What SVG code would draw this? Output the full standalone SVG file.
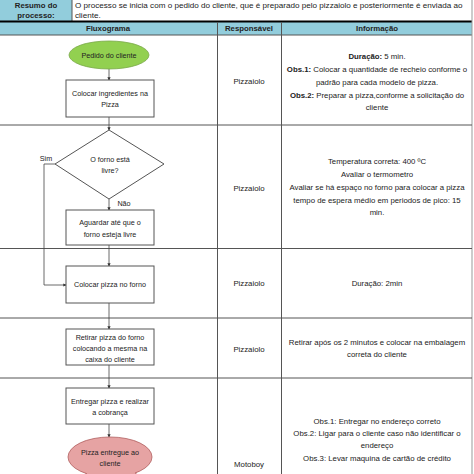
<svg xmlns="http://www.w3.org/2000/svg" width="474" height="474" viewBox="0 0 474 474">
<defs>
<style>
text{font-family:"Liberation Sans",Arial,sans-serif;font-size:7.8px;fill:#222;text-anchor:middle}
.n{font-size:7.2px}
.s{font-size:8.1px}
.b{font-weight:bold}
.l{text-anchor:start}
.grid{stroke:#555;stroke-width:1;fill:none}
.box{fill:#fff;stroke:#555;stroke-width:1}
.con{stroke:#444;stroke-width:0.8;fill:none}
</style>
<marker id="ah" viewBox="0 0 6 6" refX="5" refY="3" markerWidth="4" markerHeight="4" orient="auto"><path d="M0,0L6,3L0,6z" fill="#333"/></marker>
</defs>
<rect width="474" height="474" fill="#fff"/>
<g id="table">
<rect x="0" y="0" width="72" height="21" fill="#92cddc"/>
<rect x="0" y="22" width="472" height="13" fill="#92cddc"/>
<line x1="72" y1="0" x2="72" y2="21" class="grid"/>
<line x1="0" y1="21.5" x2="472" y2="21.5" stroke="#000" stroke-width="2"/>
<line x1="0" y1="35" x2="472" y2="35" class="grid"/>
<line x1="217.5" y1="22" x2="217.5" y2="474" class="grid"/>
<line x1="281.5" y1="22" x2="281.5" y2="474" class="grid"/>
<line x1="472" y1="0" x2="472" y2="474" stroke="#999" stroke-width="1"/>
<line x1="0" y1="125" x2="472" y2="125" class="grid"/>
<line x1="0" y1="248.5" x2="472" y2="248.5" class="grid"/>
<line x1="0" y1="318" x2="472" y2="318" class="grid"/>
<line x1="0" y1="378" x2="472" y2="378" class="grid"/>
<text x="36" y="8" class="b">Resumo do</text>
<text x="36" y="18" class="b">processo:</text>
<text x="75" y="8" class="l s">O processo se inicia com o pedido do cliente, que é preparado pelo pizzaiolo e posteriormente é enviada ao</text>
<text x="75" y="18" class="l s">cliente.</text>
<text x="108" y="31" class="b">Fluxograma</text>
<text x="249" y="31" class="b">Responsável</text>
<text x="377" y="31" class="b">Informação</text>
</g>
<g id="connectors">
<line x1="109" y1="69" x2="109" y2="80" class="con" marker-end="url(#ah)"/>
<line x1="109" y1="117" x2="109" y2="130" class="con" marker-end="url(#ah)"/>
<line x1="109" y1="199" x2="109" y2="210" class="con" marker-end="url(#ah)"/>
<line x1="109" y1="245" x2="109" y2="266" class="con" marker-end="url(#ah)"/>
<polyline points="55,164 44,164 44,285 66,285" class="con" marker-end="url(#ah)"/>
<line x1="109" y1="303" x2="109" y2="329" class="con" marker-end="url(#ah)"/>
<line x1="109" y1="365" x2="109" y2="388" class="con" marker-end="url(#ah)"/>
<line x1="109" y1="424" x2="109" y2="437" class="con" marker-end="url(#ah)"/>
<text x="46" y="161" class="n">Sim</text>
<text x="124" y="206" class="n">Não</text>
</g>
<g id="n1">
<ellipse cx="109" cy="55" rx="40" ry="14" fill="#92d050" stroke="#7aa84a" stroke-width="0.8"/>
<text x="109" y="58" class="n">Pedido do cliente</text>
</g>
<g id="n2">
<rect x="66" y="80" width="88" height="37" class="box"/>
<text x="110" y="96" class="n">Colocar ingredientes na</text>
<text x="110" y="107" class="n">Pizza</text>
</g>
<g id="n3">
<polygon points="109,130 164,164 109,199 55,164" class="box"/>
<text x="110" y="162" class="n">O forno está</text>
<text x="110" y="173" class="n">livre?</text>
</g>
<g id="n4">
<rect x="66" y="210" width="88" height="35" class="box"/>
<text x="110" y="225" class="n">Aguardar até que o</text>
<text x="110" y="237" class="n">forno esteja livre</text>
</g>
<g id="n5">
<rect x="66" y="266" width="88" height="37" class="box"/>
<text x="110" y="287" class="n">Colocar pizza no forno</text>
</g>
<g id="n6">
<rect x="66" y="329" width="88" height="36" class="box"/>
<text x="110" y="340" class="n">Retirar pizza do forno</text>
<text x="110" y="351" class="n">colocando a mesma na</text>
<text x="110" y="362" class="n">caixa do cliente</text>
</g>
<g id="n7">
<rect x="66" y="388" width="88" height="36" class="box"/>
<text x="110" y="404" class="n">Entregar pizza e realizar</text>
<text x="110" y="415" class="n">a cobrança</text>
</g>
<g id="n8">
<rect x="86" y="462" width="50" height="14" fill="#e6a3a3" stroke="#b06060" stroke-width="0.8"/>
<ellipse cx="110" cy="457" rx="42" ry="20" fill="#e6a3a3" stroke="#b06060" stroke-width="0.8"/>
<rect x="87" y="462" width="48" height="14" fill="#e6a3a3"/>
<text x="110" y="455" class="n">Pizza entregue ao</text>
<text x="110" y="466" class="n">cliente</text>
</g>
<g id="resp">
<text x="249" y="84">Pizzaiolo</text>
<text x="249" y="191">Pizzaiolo</text>
<text x="249" y="286">Pizzaiolo</text>
<text x="249" y="352">Pizzaiolo</text>
<text x="249" y="467">Motoboy</text>
</g>
<g id="info">
<text x="377" y="59"><tspan class="b">Duração:</tspan> 5 min.</text>
<text x="377" y="72"><tspan class="b">Obs.1:</tspan> Colocar a quantidade de recheio conforme o</text>
<text x="377" y="85">padrão para cada modelo de pizza.</text>
<text x="377" y="98"><tspan class="b">Obs.2:</tspan> Preparar a pizza,conforme a solicitação do</text>
<text x="377" y="110">cliente</text>
<text x="377" y="164">Temperatura correta: 400 ºC</text>
<text x="377" y="177">Avaliar o termometro</text>
<text x="377" y="190">Avaliar se há espaço no forno para colocar a pizza</text>
<text x="377" y="203">tempo de espera médio em periodos de pico: 15</text>
<text x="377" y="215">min.</text>
<text x="377" y="286">Duração: 2min</text>
<text x="377" y="345">Retirar após os 2 minutos e colocar na embalagem</text>
<text x="377" y="357">correta do cliente</text>
<text x="377" y="424">Obs.1: Entregar no endereço correto</text>
<text x="377" y="436">Obs.2: Ligar para o cliente caso não identificar o</text>
<text x="377" y="448">endereço</text>
<text x="377" y="461">Obs.3: Levar maquina de cartão de crédito</text>
</g>
</svg>
